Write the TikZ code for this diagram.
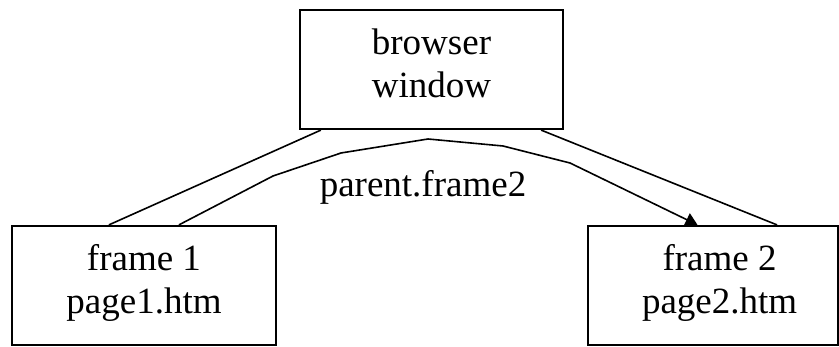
\documentclass[tikz,border=0pt]{standalone}
\usepackage{fontspec}
\setmainfont{Liberation Serif}
\usetikzlibrary{arrows.meta}

\begin{document}
\begin{tikzpicture}[x=1pt, y=1pt,
    win/.style = {draw, rectangle, line width=2.2pt, minimum width=#1, minimum height=119pt,
                  inner sep=0pt, align=center, text depth=13pt},
    txt/.style = {inner sep=0pt, align=center, text depth=13pt},
    link/.style = {line width=1.6pt},
    font = \fontsize{37}{43.5}\selectfont]
  \useasboundingbox (0,0) rectangle (839,347);
  \node[win=263pt] (browser) at (431.5,277.5) {browser\\window};
  \node[win=264pt] (frame1) at (144,61.5) {frame 1\\page1.htm};
  \node[win=250pt] (frame2) at (712.6,61.5) {};
  \node[txt] (page2) at ([xshift=7pt]frame2.center) {frame 2\\page2.htm};
  \node[anchor=base] (ref) at (423,150) {parent.frame2};
  \draw[link] ([xshift=22pt]browser.south west) -- ([xshift=98pt]frame1.north west);
  \draw[link] ([xshift=-23pt]browser.south east) -- ([xshift=190.5pt]frame2.north west);
  \draw[link, -{Triangle[length=12pt, width=14pt]}]
    ([xshift=168pt]frame1.north west) -- (273,171) -- (341,194) -- (428,208)
    -- (503,201) -- (570,184) -- ([xshift=111pt]frame2.north west);
\end{tikzpicture}
\end{document}
